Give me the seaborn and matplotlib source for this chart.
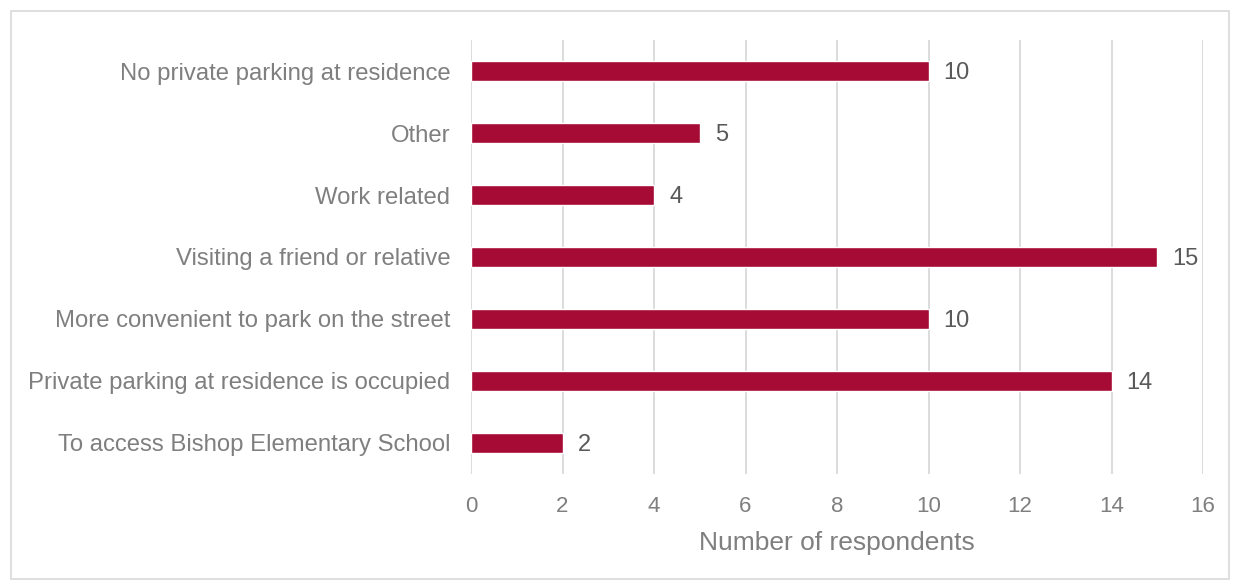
import pandas as pd
import matplotlib
matplotlib.use("Agg")
import matplotlib.pyplot as plt
import seaborn as sns

categories = [
    "No private parking at residence",
    "Other",
    "Work related",
    "Visiting a friend or relative",
    "More convenient to park on the street",
    "Private parking at residence is occupied",
    "To access Bishop Elementary School",
]
counts = [10, 5, 4, 15, 10, 14, 2]
x_ticks = [0, 2, 4, 6, 8, 10, 12, 14, 16]

df = pd.DataFrame({"reason": categories, "count": counts})

sns.set_theme(style="white")
plt.rcParams["font.family"] = ["Liberation Sans", "DejaVu Sans"]

fig = plt.figure(figsize=(12.34, 5.8), dpi=100)
ax = fig.add_axes([0.3817, 0.1828, 0.5932, 0.7482])

sns.barplot(data=df, x="count", y="reason", color="#A50B34", width=0.32,
            saturation=1, ax=ax)

for p, v in zip(ax.patches, counts):
    ax.text(p.get_width() + 0.33, p.get_y() + p.get_height() / 2 + 0.03, str(v),
            va="center", ha="left", fontsize=17, color="#595959")

ax.set_xlim(0, 16)
ax.set_xticks(x_ticks)
ax.set_xticklabels([str(t) for t in x_ticks], fontsize=16, color="#7F7F7F")
ax.tick_params(axis="y", labelsize=17.2, labelcolor="#7F7F7F", length=0, pad=15)
ax.tick_params(axis="x", length=0, pad=16)
ax.set_ylabel("")
ax.set_xlabel("Number of respondents", fontsize=19, color="#7F7F7F", labelpad=10)

ax.grid(axis="x", color="#D9D9D9", linewidth=1.3)
ax.set_axisbelow(True)
for s in ax.spines.values():
    s.set_visible(False)

# outer frame
frame = plt.Rectangle((11 / 1234, 1 / 580), 1218 / 1234, 568 / 580,
                      transform=fig.transFigure, fill=False,
                      edgecolor="#D9D9D9", linewidth=1.2)
fig.patches.append(frame)

fig.savefig("out.png", dpi=100)
